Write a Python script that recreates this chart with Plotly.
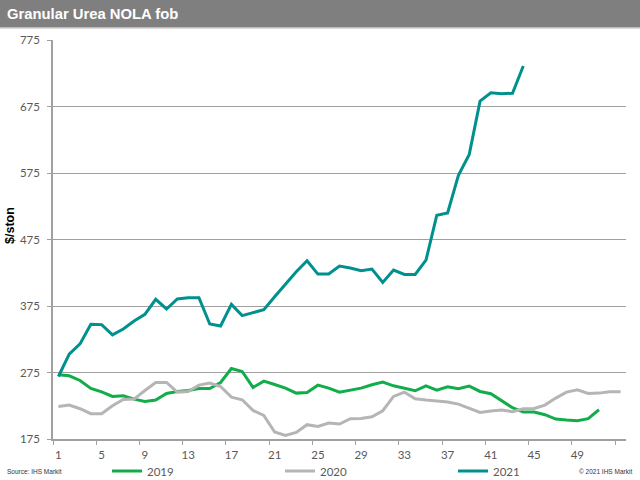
import plotly.graph_objects as go

weeks = list(range(1, 54))
tick_weeks = list(range(1, 50, 4))
tick_labels = [str(w) for w in tick_weeks]
y_ticks = [175, 275, 375, 475, 575, 675, 775]

y2019 = [271.5, 270, 263, 251, 246, 239, 240, 235, 231.5, 233.5, 243.5, 246.5, 248, 251, 251,
         260, 281, 276.5, 252.5, 262, 257, 251.5, 244, 245, 256, 251.5, 245.5, 248, 251.5, 256.5,
         260.5, 255, 251, 247.5, 255, 248.5, 253.5, 250.5, 254.5, 246.5, 243, 232.5, 222, 215.5,
         215.5, 211.5, 205, 203.5, 202.5, 205.5, 219]
y2020 = [224, 226, 220.5, 213, 213, 225, 234.5, 235, 248, 260, 260, 245.5, 246.5, 256, 259,
         254, 238, 234, 218, 210.5, 185.5, 180.5, 185, 196.5, 194, 199, 197.5, 205.5, 206, 208.5,
         217.5, 239, 245.5, 235.5, 233.5, 232, 230.5, 227.5, 221, 215, 217, 218.5, 216, 220.5,
         221, 226, 236.5, 245.5, 249, 243.5, 244, 246, 246]
y2021 = [269, 302.5, 318, 347.5, 347, 331.5, 340.5, 352.5, 362.5, 385, 370.5, 385.5, 387.5, 387.5,
         348, 345, 377.5, 360.5, 365, 369.5, 389, 407.5, 426.5, 443, 423, 423, 435, 432, 428,
         430.5, 410.5, 429, 422.5, 422.5, 444, 511.5, 515, 571.5, 603, 683, 695.5, 694, 695, 736]

series = [("2019", y2019, "#12AD4B", "legend"),
          ("2020", y2020, "#B5B5B5", "legend2"),
          ("2021", y2021, "#00918E", "legend3")]

fig = go.Figure()
for name, vals, col, lg in series:
    fig.add_trace(go.Scatter(x=weeks[:len(vals)], y=vals, name=name, mode="lines",
                             line=dict(color=col, width=3), legend=lg))

W, H = 640, 480
L, R, T, B = 53, 14, 40, 41
pw, ph = W - L - R, H - T - B

def px_x(p):
    return (p - L) / pw

def px_y(p):
    return (H - B - p) / ph

grid = "#A0A0A0"
tickfont = dict(family="Lato, sans-serif", size=11.5, color="#595959")
legfont = dict(family="Lato, sans-serif", size=11.5, color="#595959")

def leg(xpix):
    return dict(orientation="h", x=px_x(xpix), y=px_y(471), xanchor="left", yanchor="middle",
                font=legfont, bgcolor="rgba(0,0,0,0)", borderwidth=0)

fig.update_layout(
    width=W, height=H,
    margin=dict(l=L, r=R, t=T, b=B, autoexpand=False),
    plot_bgcolor="white", paper_bgcolor="white",
    showlegend=True,
    legend=leg(107), legend2=leg(280), legend3=leg(453),
    xaxis=dict(range=[0.5, 53.5], tickmode="array", tickvals=tick_weeks, ticktext=tick_labels,
               ticks="outside", ticklen=4, tickcolor="rgba(0,0,0,0)",
               showgrid=False, showline=True, linecolor=grid, linewidth=1.5,
               tickfont=tickfont, zeroline=False,
               minor=dict(tickmode="array", tickvals=[0.5 + 4 * i for i in range(14)],
                          ticks="outside", ticklen=4, tickcolor=grid, tickwidth=1, showgrid=False)),
    yaxis=dict(range=[175, 775], tickmode="array", tickvals=y_ticks,
               ticks="outside", ticklen=4, tickcolor=grid, tickwidth=1,
               showgrid=True, gridcolor=grid, gridwidth=1,
               showline=True, linecolor=grid, linewidth=1.5, zeroline=False,
               tickfont=tickfont, ticklabelstandoff=5),
)

# Title bar
fig.add_shape(type="rect", xref="paper", yref="paper",
              x0=px_x(0), x1=px_x(W), y0=px_y(27.5), y1=px_y(0),
              fillcolor="#7F7F7F", line=dict(width=0), layer="below")
fig.add_shape(type="line", xref="paper", yref="paper",
              x0=px_x(0), x1=px_x(W), y0=px_y(28.5), y1=px_y(28.5),
              line=dict(color="#D9D9D9", width=1))
fig.add_annotation(text="<b>Granular Urea NOLA fob</b>", xref="paper", yref="paper",
                   x=px_x(5), y=px_y(14), xanchor="left", yanchor="middle", showarrow=False,
                   font=dict(family="Liberation Sans, Arial", size=14.8, color="white"))
fig.add_annotation(text="<b>$/ston</b>", xref="paper", yref="paper",
                   x=px_x(10), y=px_y(226), xanchor="center", yanchor="middle", showarrow=False,
                   textangle=-90,
                   font=dict(family="Liberation Sans, Arial", size=12.5, color="black"))
fig.add_annotation(text="Source: IHS Markit", xref="paper", yref="paper",
                   x=px_x(5), y=px_y(471), xanchor="left", yanchor="middle", showarrow=False,
                   font=dict(family="Liberation Sans, Arial", size=6.5, color="#333333"))
fig.add_annotation(text="© 2021 IHS Markit", xref="paper", yref="paper",
                   x=px_x(634), y=px_y(471), xanchor="right", yanchor="middle", showarrow=False,
                   font=dict(family="Liberation Sans, Arial", size=6.5, color="#333333"))

fig.write_html("out.html", config={"displayModeBar": False},
               post_script="document.body.style.margin='0';document.body.style.padding='0';")
